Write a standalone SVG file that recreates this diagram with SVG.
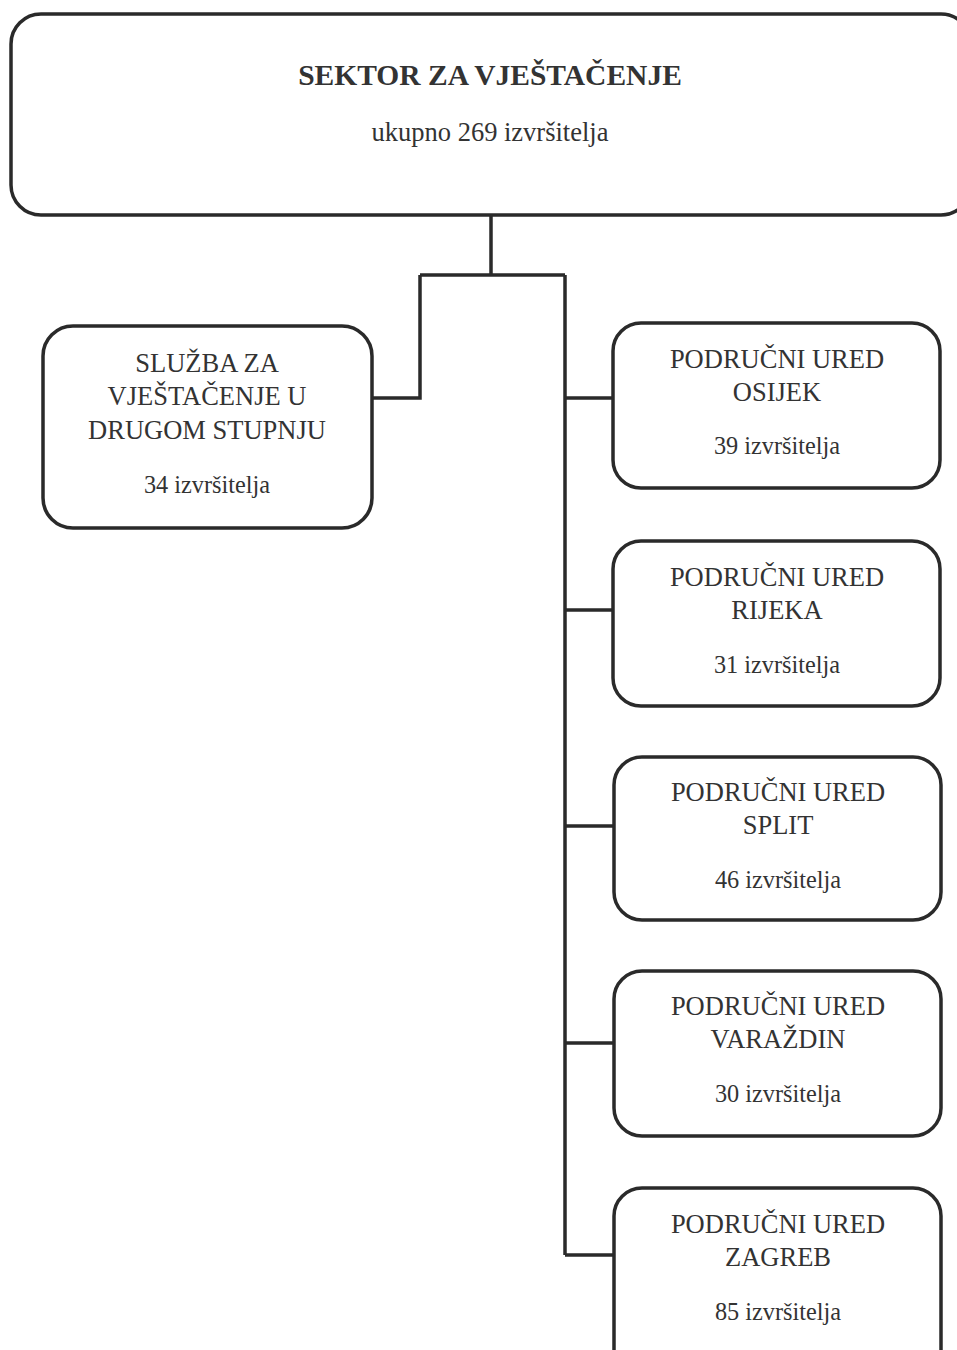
<svg xmlns="http://www.w3.org/2000/svg" width="957" height="1350" viewBox="0 0 957 1350">
<style>
.box{fill:#fff;stroke:#2a2a2a;stroke-width:3.5}
.t{font-family:"Liberation Serif","Times New Roman",serif;font-size:26.5px;fill:#333;text-anchor:middle}
.b{font-weight:bold;font-size:29.5px}
.u{font-size:26.5px}
.s{font-size:24.3px}
.c{fill:none;stroke:#2a2a2a;stroke-width:3.5}
</style>
<rect width="957" height="1350" fill="#fff"/>
<g id="connectors">
<path class="c" d="M491 215V275M420 275H565M420 275V398H372M565 275V1255M565 398H613M565 610H613M565 826H613M565 1043H613M565 1255H613"/>
</g>
<g id="sektor">
<rect class="box" x="11" y="14" width="960" height="201" rx="30"/>
<text class="t b" x="490" y="85">SEKTOR ZA VJEŠTAČENJE</text>
<text class="t u" x="490" y="141">ukupno 269 izvršitelja</text>
</g>
<g id="sluzba">
<rect class="box" x="43" y="326" width="329" height="202" rx="30"/>
<text class="t" x="207" y="372">SLUŽBA ZA</text>
<text class="t" x="207" y="405">VJEŠTAČENJE U</text>
<text class="t" x="207" y="439">DRUGOM STUPNJU</text>
<text class="t s" x="207" y="493">34 izvršitelja</text>
</g>
<g id="osijek">
<rect class="box" x="613" y="323" width="327" height="165" rx="28"/>
<text class="t" x="777" y="368">PODRUČNI URED</text>
<text class="t" x="777" y="401">OSIJEK</text>
<text class="t s" x="777" y="454">39 izvršitelja</text>
</g>
<g id="rijeka">
<rect class="box" x="613" y="541" width="327" height="165" rx="28"/>
<text class="t" x="777" y="586">PODRUČNI URED</text>
<text class="t" x="777" y="619">RIJEKA</text>
<text class="t s" x="777" y="673">31 izvršitelja</text>
</g>
<g id="split">
<rect class="box" x="614" y="757" width="327" height="163" rx="28"/>
<text class="t" x="778" y="801">PODRUČNI URED</text>
<text class="t" x="778" y="834">SPLIT</text>
<text class="t s" x="778" y="888">46 izvršitelja</text>
</g>
<g id="varazdin">
<rect class="box" x="614" y="971" width="327" height="165" rx="28"/>
<text class="t" x="778" y="1015">PODRUČNI URED</text>
<text class="t" x="778" y="1048">VARAŽDIN</text>
<text class="t s" x="778" y="1102">30 izvršitelja</text>
</g>
<g id="zagreb">
<rect class="box" x="614" y="1188" width="327" height="190" rx="28"/>
<text class="t" x="778" y="1233">PODRUČNI URED</text>
<text class="t" x="778" y="1266">ZAGREB</text>
<text class="t s" x="778" y="1320">85 izvršitelja</text>
</g>
</svg>
